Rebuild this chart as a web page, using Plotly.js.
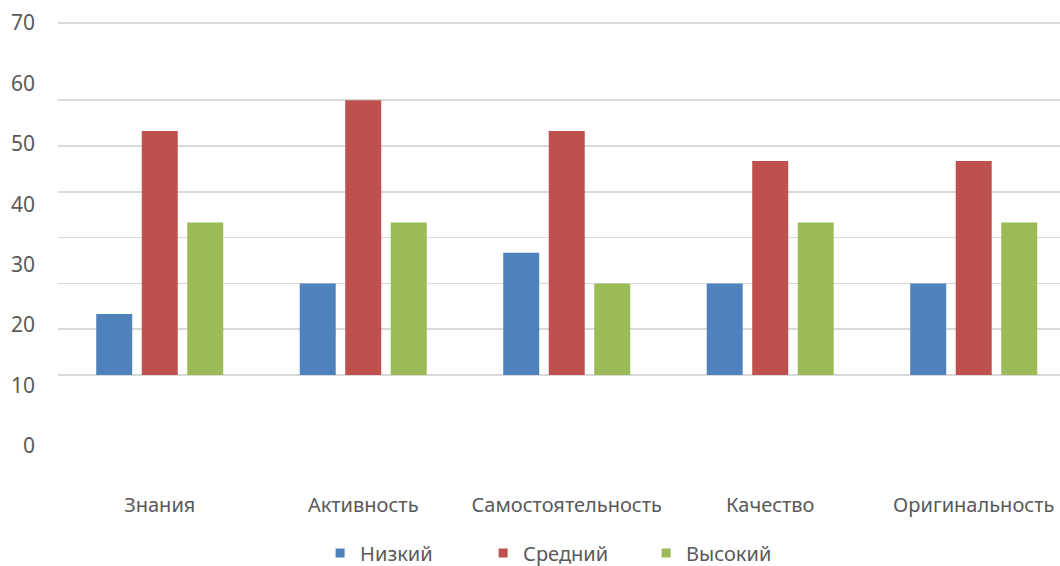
<!DOCTYPE html>
<html><head><meta charset="utf-8">
<script src="https://cdn.plot.ly/plotly-3.0.1.min.js"></script>
<style>html,body{margin:0;padding:0;background:#fff}#chart{width:1060px;height:566px}</style>
</head><body><div id="chart"></div>
<script>
const categories = ["Знания","Активность","Самостоятельность","Качество","Оригинальность"];
const seriesNames = ["Низкий","Средний","Высокий"];
const low  = [13.3, 20, 26.7, 20, 20];
const mid  = [53.3, 60, 53.3, 46.7, 46.7];
const high = [33.3, 33.3, 20, 33.3, 33.3];
const gridValues = [0,10,20,30,40,50,60,76.8];
const labelTicks = [0,10,20,30,40,50,60,70];
const colors = ["#4F81BD","#C0504D","#9BBB59"];
const seriesData = [low, mid, high];

const FONT = "Noto Sans, Open Sans, sans-serif";
const traces = [];
seriesData.forEach((vals,i)=>{
  traces.push({type:'bar', x:categories, y:vals, name:seriesNames[i],
    marker:{color:colors[i]}, showlegend:false, hoverinfo:'y'});
});
seriesData.forEach((vals,i)=>{
  traces.push({type:'scatter', mode:'markers', x:[null], y:[null], name:seriesNames[i],
    marker:{symbol:'square', size:9, color:colors[i]}, showlegend:true});
});
traces.push({type:'scatter', x:[categories[0]], y:[0], yaxis:'y2', mode:'markers',
  marker:{opacity:0}, showlegend:false, hoverinfo:'skip'});

const layout = {
  width:1060, height:566,
  margin:{l:58, r:0, t:15, b:120},
  paper_bgcolor:'#fff', plot_bgcolor:'#fff',
  font:{family:FONT, color:'#595959', size:20},
  barmode:'group', bargap:0.329, bargroupgap:0.209,
  xaxis:{type:'category', range:[-0.5, 4.424], showgrid:false, zeroline:false,
    showline:false, ticks:'', ticklabelstandoff:45, tickfont:{size:20, color:'#595959'}},
  yaxis:{range:[-15.5, 78.6], tickmode:'array', tickvals:gridValues, showticklabels:false,
    showgrid:true, gridcolor:'#D9D9D9', gridwidth:1.5, zeroline:false, ticks:'', showline:false},
  yaxis2:{overlaying:'y', side:'left', range:[0,71.3], tickmode:'array', tickvals:labelTicks,
    showgrid:false, zeroline:false, showline:false, ticks:'', ticklabelstandoff:22,
    tickfont:{size:21, color:'#595959'}},
  legend:{orientation:'h', xref:'container', yref:'container', x:0.302, xanchor:'left',
    y:0.023, yanchor:'middle', entrywidth:118, font:{size:20, color:'#595959'},
    itemclick:false, bgcolor:'rgba(0,0,0,0)'},
  showlegend:true
};
Plotly.newPlot('chart', traces, layout, {displayModeBar:false, staticPlot:true});
</script></body></html>
